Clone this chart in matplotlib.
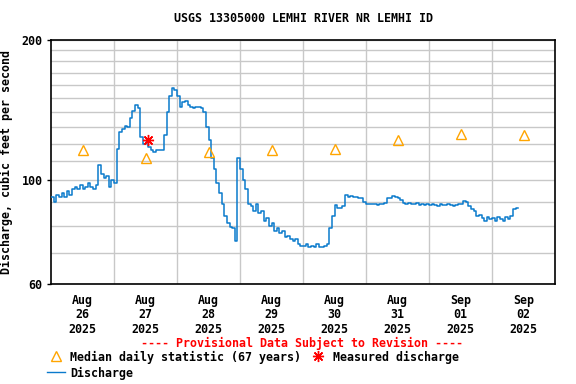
import datetime
import matplotlib
matplotlib.use('Agg')
import matplotlib.pyplot as plt
import matplotlib.dates as mdates
from matplotlib.lines import Line2D

# hourly discharge (cfs), one list per day
aug26 = [92, 90, 93, 92, 94, 92, 95, 93, 96, 97, 96, 98, 96, 97, 99, 97, 96, 98, 108, 103, 101, 102, 97, 100]
aug27 = [99, 117, 127, 129, 131, 130, 136, 141, 145, 143, 124, 120, 121, 118, 116, 115, 116, 116, 116, 125, 140, 152, 158, 156]
aug28 = [152, 144, 147, 148, 145, 144, 143, 144, 144, 143, 140, 130, 122, 112, 106, 99, 94, 89, 84, 81, 79.5, 79, 74, 112]
aug29 = [106, 100, 96, 89, 88, 86, 89, 85, 86, 82, 83, 80, 81, 78, 79, 77, 78, 75.5, 76, 75, 74, 75, 73, 72.5]
aug30 = [72.5, 73, 72, 72.5, 72, 73, 72, 72, 72.5, 73, 79, 84, 88.5, 87.5, 87.5, 88, 93, 92, 92.5, 92, 92, 91.5, 91.5, 90]
aug31 = [89, 89, 89, 89, 88.5, 89, 89, 89.5, 91.5, 91.5, 92.5, 92, 91.5, 91, 89.5, 89, 89.5, 89, 89, 89.5, 88.5, 89, 88.5, 89]
sep01 = [88.5, 89, 88.5, 88, 89, 88.5, 88.5, 89, 88.5, 88, 88.5, 89, 89, 90.5, 90, 88, 87, 86, 84, 84.5, 83, 82, 83.5, 82.5]
sep02 = [83, 82, 83.5, 82.5, 82, 83.5, 82.5, 84, 87, 87.5, 87.5]

median_days = [26, 27, 28, 29, 30, 31, 1, 2]
median_vals = [116, 112, 115, 116, 117, 122, 126, 125]

measured_time = datetime.datetime(2025, 8, 27, 13, 0)
measured_val = 122

start = datetime.datetime(2025, 8, 26)
flow = aug26 + aug27 + aug28 + aug29 + aug30 + aug31 + sep01 + sep02
times = [start + datetime.timedelta(hours=i) for i in range(len(flow))]
noons = [start + datetime.timedelta(days=i, hours=12) for i in range(8)]

W, H = 576, 384
fig = plt.figure(figsize=(W / 100, H / 100), dpi=100)
ax = fig.add_axes([51 / W, 1 - 284 / H, 504 / W, 244 / H])

font = dict(family='DejaVu Sans Mono', weight='bold', size=8.4)
tri = dict(ls='none', marker='^', ms=6.5, mfc='none', mec='#ffa500', mew=1.0)
star = dict(ls='none', marker=(8, 2, 0), ms=8, mec='#ff0000', mew=1.0)

ax.plot(times, flow, color='#0a7acc', lw=1.1, drawstyle='steps-post', zorder=3)
ax.plot(noons, median_vals, zorder=4, **tri)
ax.plot([measured_time], [measured_val], zorder=5, **star)

ax.set_yscale('log')
ax.set_ylim(60, 200)
ax.set_yticks([60, 100, 200])
ax.set_yticks([v for v in range(70, 200, 10) if v != 100], minor=True)
ax.set_yticklabels(['60', '100', '200'], fontdict=font)
ax.yaxis.set_minor_formatter(matplotlib.ticker.NullFormatter())

ax.set_xlim(start, start + datetime.timedelta(days=8))
ax.set_xticks(noons)
ax.set_xticklabels([d.strftime('%b\n%d\n%Y') for d in noons], fontdict=font, linespacing=1.15)
ax.set_xticks([start + datetime.timedelta(days=i) for i in range(1, 8)], minor=True)

ax.grid(True, which='both', color='#c8c8c8', lw=1.0, zorder=0)
ax.grid(False, which='major', axis='x')
ax.tick_params(axis='x', which='both', length=0, pad=7)
ax.tick_params(axis='y', which='major', length=3, width=1, pad=3)
ax.tick_params(axis='y', which='minor', length=0)
for s in ax.spines.values():
    s.set_linewidth(1.2)

ax.set_ylabel('Discharge, cubic feet per second', fontdict=font, labelpad=6)
ax.set_title('USGS 13305000 LEMHI RIVER NR LEMHI ID', fontdict=font, pad=13)

fig.text(302 / W, 1 - 343 / H, '---- Provisional Data Subject to Revision ----',
         color='#ff0000', ha='center', va='center', **font)

# legend drawn by hand, like the USGS plot
fig.add_artist(Line2D([56 / W], [1 - 356 / H], transform=fig.transFigure, **tri))
fig.text(70 / W, 1 - 357 / H, 'Median daily statistic (67 years)', ha='left', va='center', **font)
fig.add_artist(Line2D([318 / W], [1 - 356 / H], transform=fig.transFigure, **star))
fig.text(333 / W, 1 - 357 / H, 'Measured discharge', ha='left', va='center', **font)
fig.add_artist(Line2D([47 / W, 65 / W], [1 - 372 / H, 1 - 372 / H], transform=fig.transFigure,
                      color='#0a7acc', lw=1.0))
fig.text(70 / W, 1 - 373 / H, 'Discharge', ha='left', va='center', **font)

fig.savefig('out.png', dpi=100)
